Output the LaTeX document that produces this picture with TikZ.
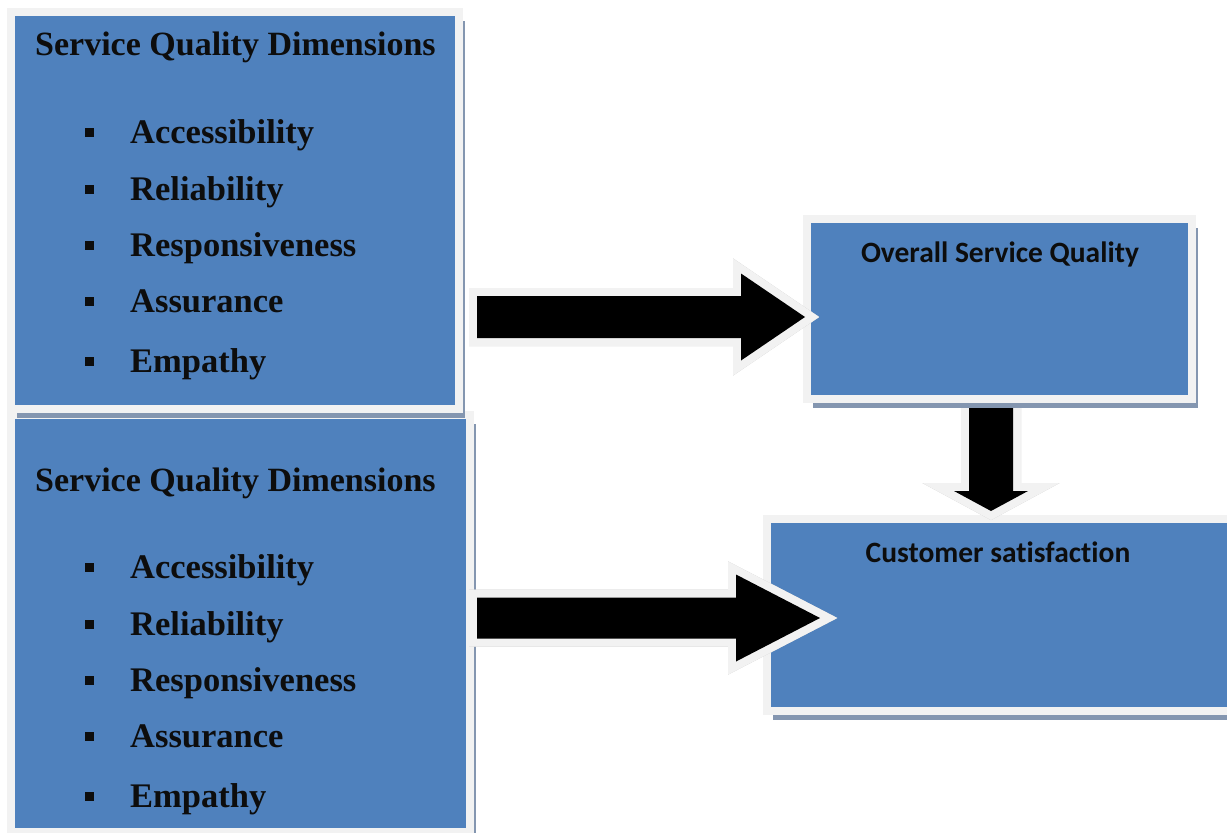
\documentclass[tikz,border=0pt]{standalone}
\usepackage{fontspec}
\setmainfont{Liberation Serif}
\newfontfamily\calfont[Ligatures=NoCommon]{Carlito}
\usetikzlibrary{calc,shadows}
\definecolor{boxblue}{HTML}{4F81BD}
\definecolor{rimgray}{HTML}{F2F2F2}
\definecolor{shadegray}{HTML}{8496B0}
\definecolor{arrshade}{HTML}{C4C4C4}
\definecolor{txt}{HTML}{0D0D0D}
\tikzset{
  bluebox/.style={rectangle, fill=boxblue, draw=rimgray, line width=8pt, inner sep=0pt,
    drop shadow={shadow xshift=6pt, shadow yshift=-9pt, fill=shadegray, opacity=1}},
  titletext/.style={anchor=base west, inner sep=0pt, text=txt, font=\fontsize{34}{40}\selectfont\bfseries},
  itemtext/.style={anchor=base west, inner sep=0pt, text=txt, font=\fontsize{34.5}{40}\selectfont\bfseries},
  bul/.style={rectangle, fill=txt, minimum size=9.3pt, inner sep=0pt},
  labeltext/.style={anchor=base, inner sep=0pt, text=txt, font=\calfont\fontsize{29.5}{33}\selectfont\bfseries},
  arrshadow/.style={draw=arrshade, fill=arrshade, line width=16pt, line join=miter, shift={(3,5)}},
  arrlight/.style={draw=rimgray, fill=rimgray, line width=16pt, line join=miter},
  arrfill/.style={fill=black},
}
\begin{document}
\begin{tikzpicture}[x=1pt,y=-1pt]
\useasboundingbox (0,0) rectangle (1227,833);
\clip (0,0) rectangle (1227,833);
\fill[white] (0,0) rectangle (1227,833);

% lower-left box
\node[bluebox, minimum width=459pt, minimum height=417pt] (b2) at (240.5,623.5) {};
% upper-left box
\node[bluebox, minimum width=448pt, minimum height=397pt] (b1) at (235,210.5) {};

\node[titletext] (b1t) at (35,55) {Service Quality Dimensions};
\foreach \t/\y [count=\i] in {Accessibility/143, Reliability/200, Responsiveness/256, Assurance/312, Empathy/372}{
  \node[bul] (b1b\i) at (89.5,\y-10.5) {};
  \node[itemtext] (b1i\i) at (130,\y) {\t};
}
\node[titletext] (b2t) at (35,491) {Service Quality Dimensions};
\foreach \t/\y [count=\i] in {Accessibility/578, Reliability/635, Responsiveness/691, Assurance/747, Empathy/807}{
  \node[bul] (b2b\i) at (89.5,\y-10.5) {};
  \node[itemtext] (b2i\i) at (130,\y) {\t};
}

% customer satisfaction box
\node[bluebox, minimum width=473pt, minimum height=192pt] (cs) at (1003.5,615) {};
\node[labeltext] (cst) at (998,562) {Customer satisfaction};

% down arrow
\coordinate (a2s) at (991,408);
\coordinate (a2e) at (991,511);
\foreach \st in {arrshadow,arrlight,arrfill}{
  \path[\st] ($(a2s)+(-22,0)$) -- ($(a2e)+(-22,-20)$) -- ($(a2e)+(-37,-20)$) -- (a2e)
    -- ($(a2e)+(37,-20)$) -- ($(a2e)+(22,-20)$) -- ($(a2s)+(22,0)$) -- cycle;
}

% overall service quality box
\node[bluebox, minimum width=385pt, minimum height=180pt] (osq) at (999.5,309) {};
\node[labeltext] (osqt) at (1000,262) {Overall Service Quality};

% top horizontal arrow
\coordinate (a1s) at (477,317);
\coordinate (a1e) at (805,317);
\foreach \st in {arrshadow,arrlight,arrfill}{
  \path[\st] ($(a1s)+(0,-21)$) -- ($(a1e)+(-64,-21)$) -- ($(a1e)+(-64,-43.5)$) -- (a1e)
    -- ($(a1e)+(-64,43.5)$) -- ($(a1e)+(-64,21)$) -- ($(a1s)+(0,21)$) -- cycle;
}

% bottom horizontal arrow
\coordinate (a3s) at (477,618);
\coordinate (a3e) at (820,618);
\foreach \st in {arrshadow,arrlight,arrfill}{
  \path[\st] ($(a3s)+(0,-20.5)$) -- ($(a3e)+(-84,-20.5)$) -- ($(a3e)+(-84,-43.5)$) -- (a3e)
    -- ($(a3e)+(-84,43.5)$) -- ($(a3e)+(-84,20.5)$) -- ($(a3s)+(0,20.5)$) -- cycle;
}
\end{tikzpicture}
\end{document}
